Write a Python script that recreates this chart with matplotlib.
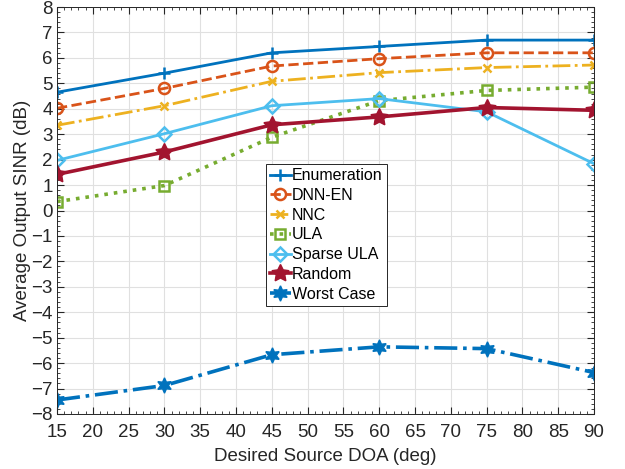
import numpy as np
import matplotlib.pyplot as plt
from matplotlib.ticker import MultipleLocator

plt.rcParams['font.family'] = ['Liberation Sans', 'DejaVu Sans']

doa = [15, 30, 45, 60, 75, 90]
enumeration = [4.65, 5.4, 6.2, 6.45, 6.7, 6.7]
dnn_en = [4.02, 4.8, 5.68, 5.97, 6.2, 6.2]
nnc = [3.35, 4.12, 5.08, 5.42, 5.62, 5.72]
ula = [0.35, 0.98, 2.88, 4.32, 4.72, 4.85]
sparse_ula = [1.97, 3.02, 4.12, 4.4, 3.88, 1.84]
random_sel = [1.42, 2.3, 3.37, 3.68, 4.05, 3.94]
worst_case = [-7.45, -6.88, -5.67, -5.36, -5.43, -6.37]

fig = plt.figure(figsize=(6.25, 4.69), dpi=100)
ax = fig.add_axes([0.0912, 0.1173, 0.8592, 0.8677])

lw = 2
ax.plot(doa, enumeration, '-', marker='+', color='#0072BD', lw=lw, ms=8, mew=1.8, label='Enumeration')
ax.plot(doa, dnn_en, '--', marker='o', color='#D95319', lw=lw, ms=8, mew=1.8, mfc='none', label='DNN-EN')
ax.plot(doa, nnc, '-.', marker='x', color='#EDB120', lw=lw, ms=6, mew=1.8, label='NNC')
ax.plot(doa, ula, ':', marker='s', color='#77AC30', lw=2.6, ms=6.5, mew=1.8, mfc='none', label='ULA')
ax.plot(doa, sparse_ula, '-', marker='D', color='#4DBEEE', lw=lw, ms=7, mew=1.8, mfc='none', label='Sparse ULA')
ax.plot(doa, random_sel, '-', marker=(5, 1, 0), color='#A2142F', lw=2.6, ms=13, label='Random')
ax.plot(doa, worst_case, '-.', marker=(6, 1, 0), color='#0072BD', lw=2.6, ms=11, label='Worst Case')

ax.set_xlim(15, 90)
ax.set_ylim(-8, 8)
ax.xaxis.set_major_locator(MultipleLocator(5))
ax.xaxis.set_minor_locator(MultipleLocator(1))
ax.yaxis.set_major_locator(MultipleLocator(1))
ax.yaxis.set_minor_locator(MultipleLocator(0.2))
ax.tick_params(which='both', direction='in', top=True, right=True, colors='#262626',
               labelcolor='#262626', labelsize=13.5)
ax.tick_params(axis='x', which='major', pad=7)
ax.tick_params(axis='y', which='major', pad=3)
ax.tick_params(which='major', length=5)
ax.tick_params(which='minor', length=2.5)
ax.grid(True, which='major', color='#e0e0e0', lw=0.8)
ax.set_axisbelow(True)
for s in ax.spines.values():
    s.set_color('#262626')
    s.set_linewidth(0.7)

ax.set_xlabel('Desired Source DOA (deg)', fontsize=13.5, color='#262626', labelpad=5)
ax.set_ylabel('Average Output SINR (dB)', fontsize=13.5, color='#262626', labelpad=0)

leg = ax.legend(loc='upper left', bbox_to_anchor=(0.389, 0.614), fontsize=11.5,
                fancybox=False, edgecolor='#262626', framealpha=1,
                handlelength=1.3, handletextpad=0.1, labelspacing=0.3,
                borderpad=0.25, borderaxespad=0)
leg.get_frame().set_linewidth(0.7)

fig.savefig('out.png', dpi=100)
